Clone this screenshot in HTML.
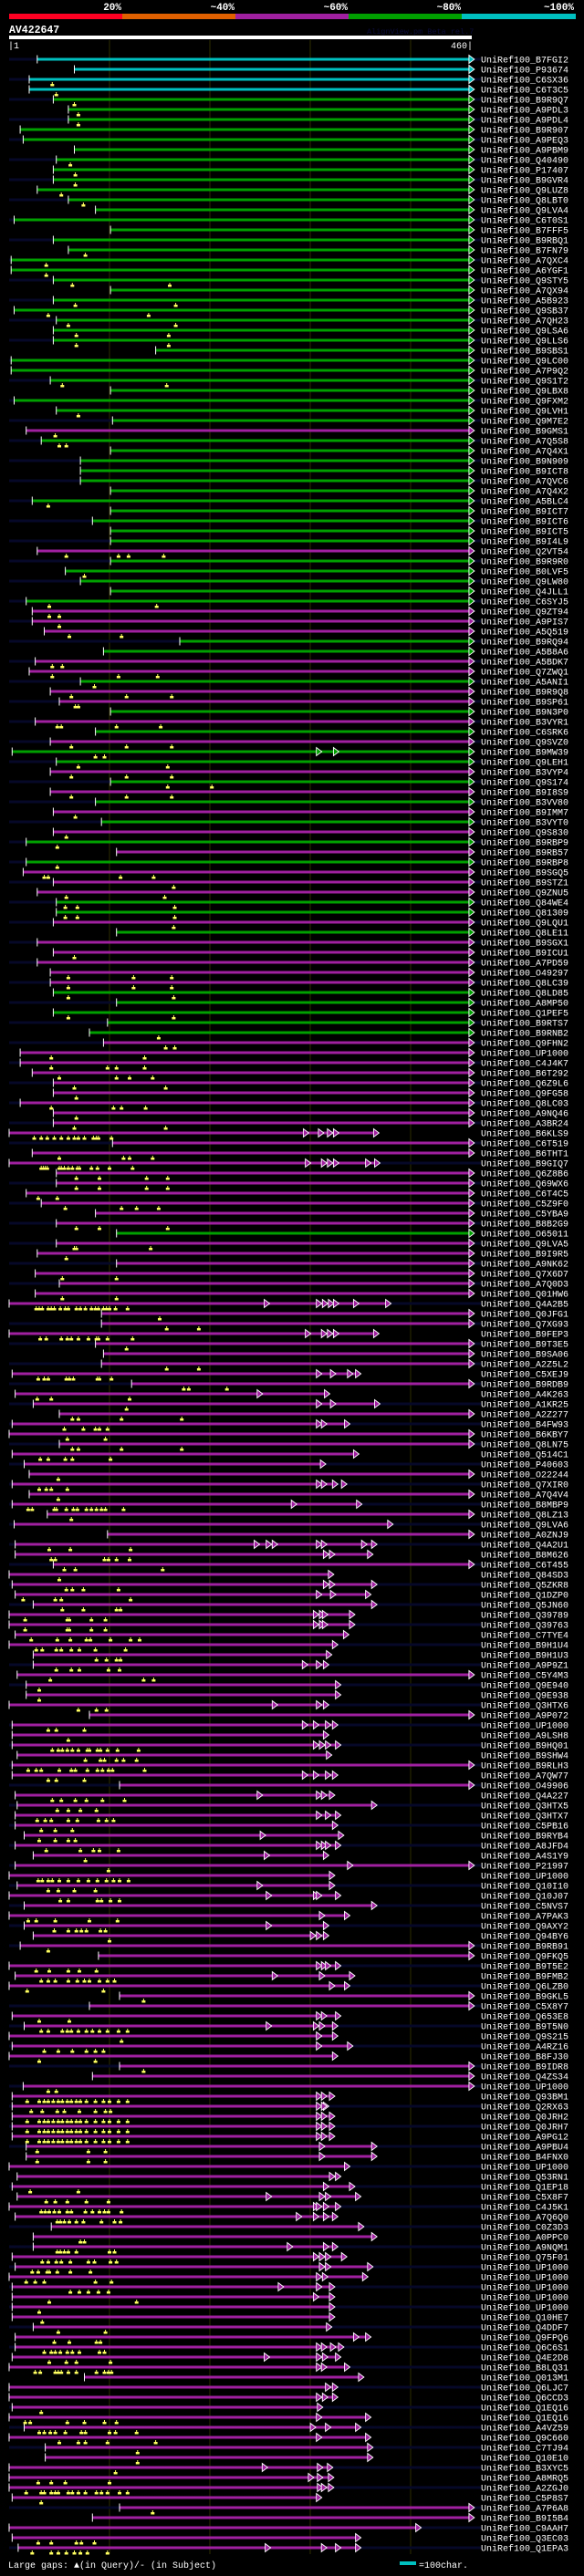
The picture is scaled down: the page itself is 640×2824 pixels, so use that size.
<!DOCTYPE html>
<html><head><meta charset="utf-8">
<style>
html,body{margin:0;padding:0;background:#000;}
body{width:640px;height:2819px;overflow:hidden;}
svg text{font-family:"Liberation Mono","DejaVu Sans Mono",monospace;}
</style></head>
<body>
<svg id="chart" width="640" height="2819" xmlns="http://www.w3.org/2000/svg">
<rect x="0" y="0" width="640" height="2819" fill="#000"/>
<g>
<rect x="10" y="15" width="124" height="6" fill="#ff0022"/>
<rect x="134" y="15" width="124" height="6" fill="#e06000"/>
<rect x="258" y="15" width="124" height="6" fill="#a020a0"/>
<rect x="382" y="15" width="124" height="6" fill="#00a000"/>
<rect x="506" y="15" width="125" height="6" fill="#00c0c0"/>
<text x="133" y="11" fill="#fff" font-size="11" font-weight="bold" text-anchor="end">20%</text>
<text x="257" y="11" fill="#fff" font-size="11" font-weight="bold" text-anchor="end">~40%</text>
<text x="381" y="11" fill="#fff" font-size="11" font-weight="bold" text-anchor="end">~60%</text>
<text x="505" y="11" fill="#fff" font-size="11" font-weight="bold" text-anchor="end">~80%</text>
<text x="629" y="11" fill="#fff" font-size="11" font-weight="bold" text-anchor="end">~100%</text>
</g>
<text x="10" y="36" fill="#fff" font-size="11.5" font-weight="bold">AV422647</text>
<text x="402" y="37" fill="#0b0b3a" font-size="8.5">AlignView.pm Beta rel.7</text>
<rect x="10" y="39" width="507" height="4" fill="#fff"/>
<text x="9" y="53" fill="#fff" font-size="10">|1</text>
<text x="518" y="53" fill="#fff" font-size="10" text-anchor="end">460|</text>
<g id="grid"></g>
<g id="rows"></g>
<g id="marks"></g>
<g>
<text x="9" y="2815" fill="#fff" font-size="10">Large gaps: ▲(in Query)/- (in Subject)</text>
<rect x="438" y="2808" width="18" height="4" fill="#00c0c0"/>
<text x="459" y="2815" fill="#fff" font-size="10">=100char.</text>
</g>
</svg>
<script>
const ids = ["B7FGI2","P93674","C6SX36","C6T3C5","B9R9Q7","A9PDL3","A9PDL4","B9R907","A9PEQ3","A9PBM9","Q40490","P17407","B9GVR4","Q9LUZ8","Q8LBT0","Q9LVA4","C6T0S1","B7FFF5","B9RBQ1","B7FN79","A7QXC4","A6YGF1","Q9STY5","A7QX94","A5B923","Q9SB37","A7QH23","Q9LSA6","Q9LLS6","B9SBS1","Q9LC00","A7P9Q2","Q9S1T2","Q9LBX8","Q9FXM2","Q9LVH1","Q9M7E2","B9GMS1","A7Q5S8","A7Q4X1","B9N909","B9ICT8","A7QVC6","A7Q4X2","A5BLC4","B9ICT7","B9ICT6","B9ICT5","B9I4L9","Q2VT54","B9R9R0","B0LVF5","Q9LW80","Q4JLL1","C6SYJ5","Q9ZT94","A9PIS7","A5Q519","B9RQ94","A5B8A6","A5BDK7","Q7ZWQ1","A5ANI1","B9R9Q8","B9SP61","B9N3P0","B3VYR1","C6SRK6","Q9SVZ0","B9MW39","Q9LEH1","B3VYP4","Q9S174","B9I8S9","B3VV80","B9IMM7","B3VYT0","Q9S830","B9RBP9","B9RB57","B9RBP8","B9SGQ5","B9STZ1","Q9ZNU5","Q84WE4","Q81309","Q9LQU1","Q8LE11","B9SGX1","B9ICU1","A7PD59","O49297","Q8LC39","Q8LD85","A8MP50","Q1PEF5","B9RTS7","B9RNB2","Q9FHN2","UP1000","C4J4K7","B6T292","Q6Z9L6","Q9FG58","Q8LC03","A9NQ46","A3BR24","B6KLS9","C6T519","B6THT1","B9GIQ7","Q6Z8B6","Q69WX6","C6T4C5","C5Z9F0","C5YBA9","B8B2G9","O65011","Q9LVA5","B9I9R5","A9NK62","Q7X6D7","A7Q0D3","Q01HW6","Q4A2B5","Q0JFG1","Q7XG93","B9FEP3","B9T3E5","B9SA06","A2Z5L2","C5XEJ9","B9RDB9","A4K263","A1KR25","A2Z277","B4FW93","B6KBY7","Q8LN75","Q514C1","P40603","O22244","Q7XIR0","A7Q4V4","B8MBP9","Q8LZ13","Q9LVA6","A0ZNJ9","Q4A2U1","B8M626","C6T455","Q84SD3","Q5ZKR8","Q1DZP0","Q5JN60","Q39789","Q39763","C7TYE4","B9H1U4","B9H1U3","A9P9Z1","C5Y4M3","Q9E940","Q9E938","Q3HTX6","A9P072","UP1000","A9LSH8","B9HQ01","B9SHW4","B9RLH3","A7QW77","O49906","Q4A227","Q3HTX5","Q3HTX7","C5PB16","B9RYB4","A8JFD4","A4S1Y9","P21997","UP1000","Q10I10","Q10J07","C5NVS7","A7PAK3","Q9AXY2","Q94BY6","B9RB91","Q9FKQ5","B9T5E2","B9FMB2","Q6LZB0","B9GKL5","C5X8Y7","Q653E8","B9T5N0","Q9S215","A4RZ16","B8FJ30","B9IDR8","Q4ZS34","UP1000","Q93BM1","Q2RX63","Q0JRH2","Q0JRH7","A9PG12","A9PBU4","B4FNX0","UP1000","Q53RN1","Q1EP18","C5X8F7","C4J5K1","A7Q6Q0","C0Z3D3","A0PPC0","A9NQM1","Q75F01","UP1000","UP1000","UP1000","UP1000","UP1000","Q10HE7","Q4DDF7","Q9FPQ6","Q6C6S1","Q4E2D8","B8LQ31","Q013M1","Q6LJC7","Q6CCD3","Q1EQ16","Q1EQ16","A4VZ59","Q9C660","C7TJ94","Q10E10","B3XYC5","A8MRQ5","A2ZGJ0","C5P8S7","A7P6A8","B9I5B4","C9AAH7","Q3EC03","Q1EPA3"];
// alignment start residue per row
const starts = [29,66,21,21,45,60,60,12,15,66,48,45,45,29,60,87,6,102,45,60,3,3,45,102,45,6,48,45,45,147,
3,3,42,102,6,48,104,18,33,102,72,72,72,102,24,102,84,102,102,29,102,57,72,102,18,24,24,36,171,95,
27,21,72,42,51,102,27,87,42,4,48,42,102,42,87,45,93,45,18,108,18,15,45,29,48,48,45,108,29,45,
29,42,42,45,108,45,99,81,95,12,12,24,45,45,12,45,45,1,104,24,1,48,48,18,33,87,48,108,48,29,
108,27,51,27,1,93,93,1,87,95,93,4,123,7,25,51,4,1,51,4,16,21,4,21,4,39,6,99,7,7,
45,1,4,7,25,1,1,7,1,25,25,9,18,18,1,81,4,4,4,9,4,4,111,7,9,7,7,16,7,25,
7,1,9,1,16,1,16,25,12,90,1,7,1,111,81,4,16,1,4,1,111,84,15,4,4,4,4,4,18,18,
1,9,4,9,1,7,43,25,25,4,7,1,4,4,4,4,25,7,7,4,1,76,1,1,4,1,16,1,37,37,
1,1,1,4,111,84,1,4,10];
// alignment end residue per row
const ends = [460,460,460,460,460,460,460,460,460,460,460,460,460,460,460,460,460,460,460,460,460,460,460,460,460,460,460,460,460,460,
460,460,460,460,460,460,460,460,460,460,460,460,460,460,460,460,460,460,460,460,460,460,460,460,460,460,460,460,460,460,
460,460,460,460,460,460,460,460,460,460,460,460,460,460,460,460,460,460,460,460,460,460,460,460,460,460,460,460,460,460,
460,460,460,460,460,460,460,460,460,460,460,460,460,460,460,460,460,365,460,460,366,460,460,460,460,460,460,460,460,460,
460,460,460,460,377,460,460,365,460,460,460,347,460,316,366,460,336,460,460,345,312,460,324,460,348,460,379,460,363,359,
460,320,363,357,363,341,341,335,324,318,315,460,327,327,315,460,324,315,327,318,460,324,460,321,363,327,324,330,327,315,
460,321,321,327,363,336,315,315,460,460,327,341,336,460,460,327,324,324,339,324,460,460,460,321,315,321,321,321,363,363,
336,327,341,347,327,324,350,363,324,333,359,354,321,321,321,321,318,357,330,327,336,350,324,324,309,357,347,357,359,359,
319,320,320,308,460,460,407,347,347];
// identity class per row: c=~100%, g=~80%, m=~60%
const colors = ["c","c","c","c","g","g","g","g","g","g","g","g","g","g","g","g","g","g","g","g","g","g","g","g","g","g","g","g","g","g",
"g","g","g","g","g","g","g","m","g","g","g","g","g","g","g","g","g","g","g","m","g","g","g","g","g","m","m","m","g","g",
"m","m","g","m","m","g","m","g","m","g","g","m","g","m","g","m","g","m","g","m","g","m","m","m","g","g","m","g","m","m",
"m","m","m","g","g","g","g","g","m","m","m","m","m","m","m","m","m","m","m","m","m","m","m","m","m","m","m","g","m","m"];
// secondary HSP arrows
const extraRows = [69,107,110,124,127,131,133,134,136,142,144,148,149,152,153,155,156,160,164,166,168,171,173,175,177,178,179,180,182,183,185,186,187,190,191,192,195,196,197,198,203,204,205,206,207,208,209,211,212,213,214,215,218,219,220,221,222,223,227,228,229,230,232,233,235,236,237,240,241,242,248];
const extraPos = [[308,325],[295,310,319,325],[297,313,319,325,357],[256,308,314,320,325,345],[297,313,319,325],[308,322,339],[249],[308,322],[308,313],[308,313,333],[283],[246,258,264,308,313,353],[315,321],[315,321],[308,322],[305,311,314],[305,311,314],[294,308],[264,308],[294,305,317],[305,311,317],[294,305,317],[249,308,313],[308,317],[252],[308,313,317],[256],[339],[249],[258,305,308],[311],[258],[302,308],[308,313,317],[264,311],[321],[308,313],[258,305,311],[308],[308],[308,313],[308,313],[308,313],[308,313],[308,313],[311],[311],[321],[315],[258,311,317],[305,308,315],[288,305,315],[279,315],[305,311,317],[311,317],[308,314],[270,308],[305],[345],[308,313,322],[256,308,314],[308,313],[317],[308,314],[308],[302,317],[308],[254,309],[300,309],[309,313],[257,313,327]];
// query gap markers (residue positions)
const gapRows = [2,3,4,5,6,10,11,12,13,14,19,20,21,22,24,25,26,27,28,32,35,37,38,44,49,51,54,55,56,57,60,61,62,63,64,66,68,69,70,71,72,73,75,77,78,80,81,82,83,84,85,86,89,91,92,93,95,97,98,99,100,101,102,103,104,105,106,107,109,110,111,112,113,114,116,118,119,121,123,124,125,126,127,128,130,131,132,133,134,135,136,137,138,139,141,142,143,144,145,148,149,150,151,152,153,154,155,156,157,158,159,160,161,162,163,164,166,167,168,169,170,171,173,174,175,176,177,178,179,180,181,182,183,185,186,187,188,190,191,192,193,195,196,197,198,199,200,202,203,204,205,206,207,208,209,212,213,214,215,217,218,219,220,221,222,223,224,225,226,227,228,229,230,234,235,236,237,238,239,240,241,242,243,244,247,248];
const gapPos = [[44],[48],[66],[70],[70],[62],[67],[67],[53],[75],[77],[38],[38],[64,161],[67,167],[40,140],[60,167],[68,160],[68,160],[54,158],[70],[47],[51,58],[40],[58,110,120,155],[76],[41,148],[41,51],[51],[61,113],[44,54],[44,110,149],[86],[63,118,163],[67,70],[49,53,108,152],[63,118,163],[87,96],[70,159],[63,118,163],[159,203],[63,118,163],[67],[58],[49],[49],[36,40,112,145],[165],[58,156],[57,69,166],[57,69,166],[165],[66],[60,125,163],[60,125,163],[60,165],[60,165],[150],[157,166],[43,136],[43,99,108,136],[51,108,121,144],[66,157],[68],[43,105,113,137],[68],[66,157],[26,33,39,46,53,60,66,70,76,85,88,90,103],[51,115,121,144],[33,35,37,39,51,53,56,60,64,69,71,83,89,101,124],[68,91,138,159],[68,91,138,159],[30,49],[57,113,128,150],[68,91,159],[66,68,142],[58],[54,108],[54,108],[28,31,34,40,43,46,52,57,60,68,72,77,83,87,90,95,98,101,107,119],[151],[158,190],[32,38,53,59,63,70,80,88,90,99,124],[118],[158,190],[30,36,40,58,61,65,89,91,103],[175,180,218],[29,43,121],[118],[64,70,113,173],[56,75,87,91,99],[59,97],[64,70,113,173],[32,40,57,64,102],[50],[31,38,43,59],[50],[20,24,46,48,58,65,69,78,83,88,93,97,115],[63],[41,62,122],[43,47,96,100,108,121],[56,67,154],[51],[58,64,75,110],[15,47,53,122],[54,75,108,112],[17,59,61,83,97],[17,59,61,83,97],[23,49,62,78,82,102,122,131],[28,34,48,53,63,71,87,117],[88,98,108,112],[48,63,71,100,111],[42,135,145],[31],[31],[70,88,98],[40,48,76],[60],[44,50,54,59,64,70,79,81,89,92,99,109,130],[77,92,96,108,115,128],[20,28,33,51,63,67,79,89,94,100,104,136],[40,48,76],[44,53,67,78,94,116],[49,60,72,88],[29,37,43,60,69,90,98,105],[33,47,64],[31,47,60,67],[38,72,85,91,110],[77],[100],[30,34,40,44,51,60,70,80,89,98,105,111,120],[40,50,66,87],[52,60,89,93,102,111],[20,28,47,81,109],[46,60,68,73,78,92,97],[101],[40],[28,41,60,71,88],[33,40,47,60,69,76,81,91,99,106],[19,95],[135],[31,61],[33,40,54,59,63,70,78,84,91,99,110,119],[113],[36,50,64,78,87,95],[31,87],[135],[40,48],[19,31,36,40,45,50,54,59,63,68,72,78,87,95,101,110,119],[23,34,49,56,71,87,97,102],[19,31,36,40,45,50,54,59,63,68,72,78,87,95,101,110,119],[19,31,36,40,45,50,54,59,63,68,72,78,87,95,101,110,119],[19,31,36,40,45,50,54,59,63,68,72,78,87,95,101,110,119],[29,80,97],[29,80,97],[22,70],[38,47,59,78,100],[33,37,41,46,51,59,63,77,84,91,96,100,113],[49,52,56,61,68,75,93,106,112],[72,76],[49,52,56,60,68,101,106],[34,40,48,53,62,80,86,102,108],[24,30,39,41,49,62,82],[18,27,36,87,103],[62,71,80,90,100],[41,128],[31],[34],[50,97],[46,61,88,92],[36,43,47,52,59,64,71,91,96],[41,58,68,102],[27,32,47,50,53,60,68,88,96,100,103],[33],[17,22,59,76,96,108],[31,36,42,47,57,73,77,101,107,128],[51,70,77,99,147],[129],[129],[107],[30,43,57,101],[18,33,36,43,47,50,60,64,70,77,88,93,99,111,119],[33],[144],[30,43,68,73,86],[24,43,50,58,66,72,79,99]];

const svgNS = "http://www.w3.org/2000/svg";
const X0 = 10, PXPERRES = 1.1, ROW0 = 65, PITCH = 11;
function xScale(v){ return X0 + (v-1)*PXPERRES; }
function yScale(i){ return ROW0 + i*PITCH; }
const colMap = {c:"#00c0c0", g:"#00a000", m:"#a020a0"};
function mk(tag, attrs, parent){ const e=document.createElementNS(svgNS,tag); for(const k in attrs) e.setAttribute(k,attrs[k]); parent.appendChild(e); return e; }
function colorOf(i){ return colMap[colors[i] || "m"]; }

const grid = document.getElementById("grid");
[101,201,301,401].forEach(function(v){
  const l = mk("line",{x1:xScale(v),x2:xScale(v),y1:44,y2:2800,stroke:"#2e2e00","stroke-width":1},grid);
  
  
});

const N = starts.length;
const rowsG = document.getElementById("rows");
function arrow(parent, xe, y, col){
  return mk("polygon",{points:(xe-1)+","+(y-4.5)+" "+(xe+5)+","+y+" "+(xe-1)+","+(y+4.5),fill:col,stroke:"#fff","stroke-width":0.9},parent);
}
for(let i=0;i<N;i++){
  const y = yScale(i);
  const g = mk("g",{},rowsG);
  const label = ids[i] || "UP1000";
  
  
  if(i%2===0){
    const bg = mk("rect",{x:10,y:y-1.5,width:517,height:3,fill:"#060828"},g);
    
    
  }
  const col = colorOf(i);
  const xs = xScale(starts[i]), xe = xScale(ends[i]);
  const bar = mk("rect",{x:xs,y:y-1.5,width:Math.max(1,xe-xs),height:3,fill:col},g);
  
  
  const tick = mk("rect",{x:xs-0.5,y:y-4.5,width:1,height:9,fill:"#fff"},g);
  
  
  const arr = arrow(g, xe, y, col);
  
  
  const t = mk("text",{x:527,y:y+3.5,fill:"#fff","font-size":"10"},g);
  t.textContent = "UniRef100_"+label;
  
  
}
for(let k=0;k<extraRows.length;k++){
  const r = extraRows[k];
  const y = yScale(r);
  extraPos[k].forEach(function(p){
    const a = arrow(rowsG, xScale(p), y, colorOf(r));
    
    
  });
}
const marksG = document.getElementById("marks");
for(let k=0;k<gapRows.length;k++){
  const y = yScale(gapRows[k]);
  gapPos[k].forEach(function(p){
    const x = xScale(p);
    const m = mk("path",{d:"M"+(x-0.5)+","+(y+3)+"h1v2h1.5v2.5h-4v-2.5h1.5z",fill:"#ffff60"},marksG);
    
    
  });
}
</script>
</body></html>
